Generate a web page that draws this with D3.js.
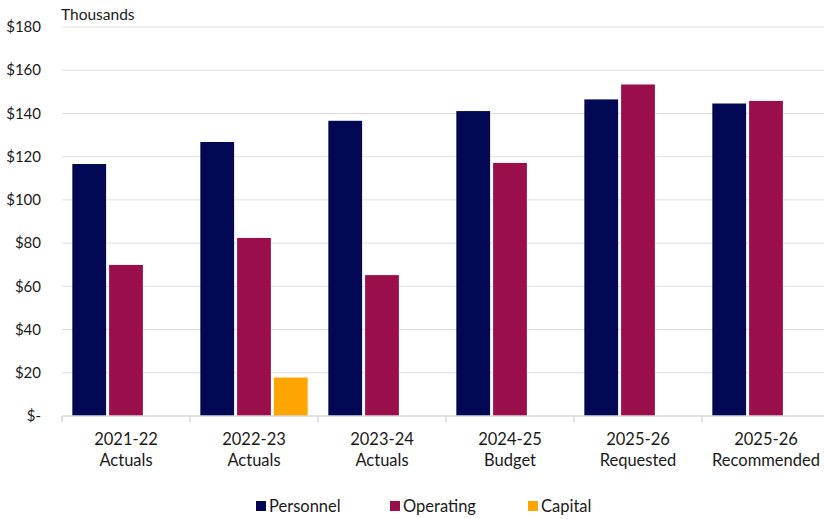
<!DOCTYPE html>
<html>
<head>
<meta charset="utf-8">
<script src="https://cdn.jsdelivr.net/npm/d3@7"></script>
<style>
  body { margin: 0; background: #fff; }
  text { font-family: Lato, "Open Sans", sans-serif; fill: #1a1a1a; }
</style>
</head>
<body>
<div id="chart"></div>
<script>
// data
var categories = [["2021-22", "Actuals"], ["2022-23", "Actuals"], ["2023-24", "Actuals"],
                  ["2024-25", "Budget"], ["2025-26", "Requested"], ["2025-26", "Recommended"]];
var seriesNames = ["Personnel", "Operating", "Capital"];
var personnel = [116.6, 126.8, 136.6, 141.1, 146.5, 144.6];
var operating = [69.9, 82.4, 65.2, 117.1, 153.4, 145.8];
var capital = [0, 17.8, 0, 0, 0, 0];
var yTicks = [0, 20, 40, 60, 80, 100, 120, 140, 160, 180];
var colors = ["#020853", "#9A0F4B", "#FFA500"];

var width = 824, height = 519;
var margin = { top: 27, right: -6, bottom: 103, left: 62 };

var svg = d3.select("#chart").append("svg")
    .attr("width", width)
    .attr("height", height);

var x = d3.scaleBand()
    .domain(d3.range(categories.length))
    .range([margin.left, width - margin.right])
    .paddingInner(0)
    .paddingOuter(0);

var x1 = d3.scaleBand()
    .domain(seriesNames)
    .range([0, x.bandwidth()])
    .paddingOuter(0.24)
    .paddingInner(0);

var y = d3.scaleLinear()
    .domain([0, 180])
    .range([height - margin.bottom, margin.top]);

// gridlines
svg.append("g")
    .selectAll("line")
    .data(yTicks.slice(1))
    .enter().append("line")
    .attr("x1", margin.left)
    .attr("x2", width)
    .attr("y1", function(d) { return y(d); })
    .attr("y2", function(d) { return y(d); })
    .attr("stroke", "#dedede")
    .attr("stroke-width", 1);

// y labels
svg.append("g")
    .selectAll("text")
    .data(yTicks)
    .enter().append("text")
    .attr("x", 41)
    .attr("y", function(d) { return y(d); })
    .attr("dy", "0.35em")
    .attr("text-anchor", "end")
    .style("font-size", "15px")
    .text(function(d) { return d === 0 ? "$-" : "$" + d; });

svg.append("text")
    .attr("x", 61)
    .attr("y", 20)
    .style("font-size", "15.5px")
    .text("Thousands");

// bars
var seriesData = [personnel, operating, capital];
var groups = svg.append("g")
    .selectAll("g")
    .data(categories)
    .enter().append("g")
    .attr("transform", function(d, i) { return "translate(" + x(i) + ",0)"; });

groups.selectAll("rect")
    .data(function(d, i) {
        return seriesNames.map(function(s, k) { return { key: s, k: k, value: seriesData[k][i] }; })
            .filter(function(e) { return e.value > 0; });
    })
    .enter().append("rect")
    .attr("x", function(d) { return x1(d.key) + 1.5; })
    .attr("width", x1.bandwidth() - 3)
    .attr("y", function(d) { return y(d.value); })
    .attr("height", function(d) { return y(0) - y(d.value); })
    .attr("fill", function(d) { return colors[d.k]; });

// x axis line and ticks
var base = y(0);
svg.append("line")
    .attr("x1", margin.left).attr("x2", width)
    .attr("y1", base).attr("y2", base)
    .attr("stroke", "#d9d9d9").attr("stroke-width", 1.5);

svg.append("g")
    .selectAll("line")
    .data(d3.range(categories.length + 1))
    .enter().append("line")
    .attr("x1", function(i) { return margin.left + i * x.bandwidth(); })
    .attr("x2", function(i) { return margin.left + i * x.bandwidth(); })
    .attr("y1", base).attr("y2", base + 6)
    .attr("stroke", "#d9d9d9").attr("stroke-width", 1.5);

var xl = svg.append("g")
    .selectAll("text")
    .data(categories)
    .enter().append("text")
    .attr("text-anchor", "middle")
    .attr("x", function(d, i) { return x(i) + x.bandwidth() / 2; })
    .attr("y", base + 29)
    .style("font-size", "16.5px");
xl.append("tspan").text(function(d) { return d[0]; });
xl.append("tspan")
    .attr("x", function(d, i) { return x(i) + x.bandwidth() / 2; })
    .attr("dy", 21)
    .text(function(d) { return d[1]; });

// legend
var legendX = [256, 390, 528];
var legend = svg.append("g")
    .selectAll("g")
    .data(seriesNames)
    .enter().append("g")
    .attr("transform", function(d, i) { return "translate(" + legendX[i] + ",501)"; });
legend.append("rect")
    .attr("width", 10).attr("height", 10)
    .attr("fill", function(d, i) { return colors[i]; });
legend.append("text")
    .attr("x", 13)
    .attr("y", 5)
    .attr("dy", "0.35em")
    .style("font-size", "16.5px")
    .text(function(d) { return d; });
</script>
</body>
</html>
